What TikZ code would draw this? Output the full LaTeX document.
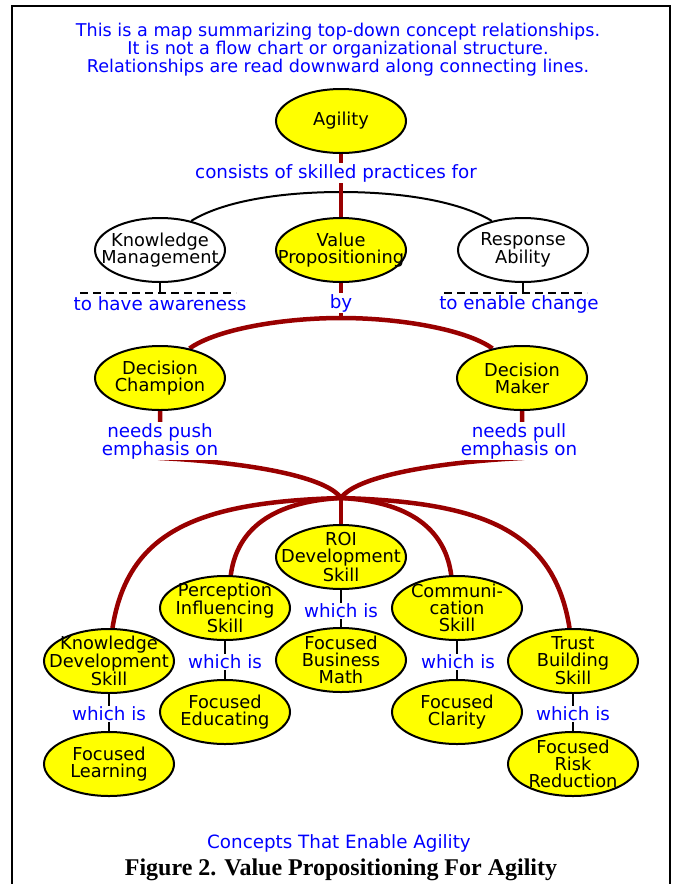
\documentclass[tikz,border=0pt]{standalone}
\usepackage{fontspec}
\setmainfont{DejaVu Sans}
\newfontfamily\capfont{Liberation Serif}
\usetikzlibrary{shapes.geometric}
\definecolor{mapred}{RGB}{153,0,0}
\definecolor{mapblue}{RGB}{0,0,255}
\definecolor{mapyellow}{RGB}{255,255,0}
\pgfdeclarelayer{background}
\pgfsetlayers{background,main}
\begin{document}
\begin{tikzpicture}[x=1pt,y=-1pt,
 concept/.style={ellipse, draw, line width=2pt, minimum width=130pt, minimum height=64pt, inner sep=0pt, fill=mapyellow},
 plainconcept/.style={concept, fill=white},
 ctext/.style={font=\fontsize{17.8}{17}\selectfont, align=center, inner sep=0pt},
 lbl/.style={text=mapblue, font=\fontsize{18.3}{18}\selectfont, align=center, inner sep=1pt, fill=white},
 lblnofill/.style={text=mapblue, font=\fontsize{18.3}{18}\selectfont, align=center, inner sep=0pt},
 redline/.style={draw=mapred, line width=4.5pt},
 thinline/.style={draw=black, line width=1.5pt},
 dashline/.style={draw=black, line width=2pt, dash pattern=on 8pt off 5pt}]
\useasboundingbox (0,0) rectangle (673,884);
% frame
\draw[line width=2.5pt] (12,884) -- (12,6) -- (670,6) -- (670,884);
% header
\node[lblnofill, font=\fontsize{17.6}{17}\selectfont] (header) at (338,50) {This is a map summarizing top-down concept relationships.\\It is not a flow chart or organizational structure.\\Relationships are read downward along connecting lines.};
% concepts
\node[concept, label={[ctext]center:Agility}] (agility) at (341,121) {};
\node[plainconcept, label={[ctext]center:Knowledge\\Management}] (km) at (160,250) {};
\node[concept, label={[ctext]center:Value\\Propositioning}] (vp) at (341,250) {};
\node[plainconcept, label={[ctext]center:Response\\Ability}] (ra) at (523,250) {};
\node[concept, label={[ctext]center:Decision\\Champion}] (dc) at (160,378) {};
\node[concept, label={[ctext]center:Decision\\Maker}] (dm) at (522,378) {};
\node[concept, label={[ctext]center:ROI\\Development\\Skill}] (roi) at (341,557) {};
\node[concept, label={[ctext]center:Perception\\Influencing\\Skill}] (pis) at (225,608) {};
\node[concept, label={[ctext]center:Communi-\\cation\\Skill}] (comm) at (457,608) {};
\node[concept, label={[ctext]center:Knowledge\\Development\\Skill}] (kds) at (109,661) {};
\node[concept, label={[ctext]center:Trust\\Building\\Skill}] (tbs) at (573,661) {};
\node[concept, label={[ctext]center:Focused\\Business\\Math}] (fbm) at (341,660) {};
\node[concept, label={[ctext]center:Focused\\Educating}] (fe) at (225,712) {};
\node[concept, label={[ctext]center:Focused\\Clarity}] (fc) at (457,712) {};
\node[concept, label={[ctext]center:Focused\\Learning}] (fl) at (109,764) {};
\node[concept, label={[ctext]center:Focused\\Risk\\Reduction}] (frr) at (573,764) {};
% linking labels
\node[lbl] (consists) at (336,173) {consists of skilled practices for};
\node[lbl] (by) at (341,303) {by};
\node[lblnofill] (aware) at (160,304) {to have awareness};
\node[lblnofill] (enable) at (519,304) {to enable change};
\node[lbl] (push) at (160,441) {needs push\\emphasis on};
\node[lbl] (pull) at (519,441) {needs pull\\emphasis on};
\node[lbl] (wroi) at (341,611) {which is};
\node[lbl] (wpis) at (225,662) {which is};
\node[lbl] (wcomm) at (458,662) {which is};
\node[lbl] (wkds) at (109,714) {which is};
\node[lbl] (wtbs) at (573,714) {which is};
\node[lblnofill] (concepts) at (339,843) {Concepts That Enable Agility};
\node[font=\capfont\bfseries\fontsize{24}{24}\selectfont, inner sep=0pt] (caption) at (341,870) {Figure 2. Value Propositioning For Agility};
% coordinates
\coordinate (blacktop) at (341,192);
\coordinate (bytop) at (341,318);
\coordinate (pushstart) at (160,458);
\coordinate (pullstart) at (522,458);
\coordinate (junction) at (341,498);
\coordinate (kmdashl) at (80,293);
\coordinate (kmdashm) at (160,293);
\coordinate (kmdashr) at (236,293);
\coordinate (radashl) at (444,293);
\coordinate (radashm) at (523,293);
\coordinate (radashr) at (587,293);
\begin{pgfonlayer}{background}
 \draw[line width=2pt] (km.43) .. controls (225,200) and (285,192) .. (blacktop) .. controls (397,192) and (457,200) .. (ra.137);
 \draw[redline] (agility.south) -- (vp.north);
 \draw[redline] (vp.south) -- (bytop);
 \draw[redline] (dc.45) .. controls (215,330) and (280,318) .. (bytop) .. controls (402,318) and (467,330) .. (dm.135);
 \draw[dashline] (kmdashl) -- (kmdashr);
 \draw[dashline] (radashl) -- (radashr);
 \draw[line width=2pt] (km.south) -- (kmdashm);
 \draw[line width=2pt] (ra.south) -- (radashm);
 \draw[redline] (dc.south) -- (pushstart) .. controls (240,462) and (325,475) .. (junction);
 \draw[redline] (dm.south) -- (pullstart) .. controls (442,462) and (357,475) .. (junction);
 \draw[redline] (junction) -- (roi.north);
 \draw[redline] (junction) .. controls (200,502) and (128,530) .. (kds.84);
 \draw[redline] (junction) .. controls (265,502) and (236,535) .. (pis.80);
 \draw[redline] (junction) .. controls (417,502) and (446,535) .. (comm.100);
 \draw[redline] (junction) .. controls (482,502) and (554,530) .. (tbs.96);
 \draw[thinline] (roi.south) -- (fbm.north);
 \draw[thinline] (pis.south) -- (fe.north);
 \draw[thinline] (comm.south) -- (fc.north);
 \draw[thinline] (kds.south) -- (fl.north);
 \draw[thinline] (tbs.south) -- (frr.north);
\end{pgfonlayer}
\end{tikzpicture}
\end{document}
